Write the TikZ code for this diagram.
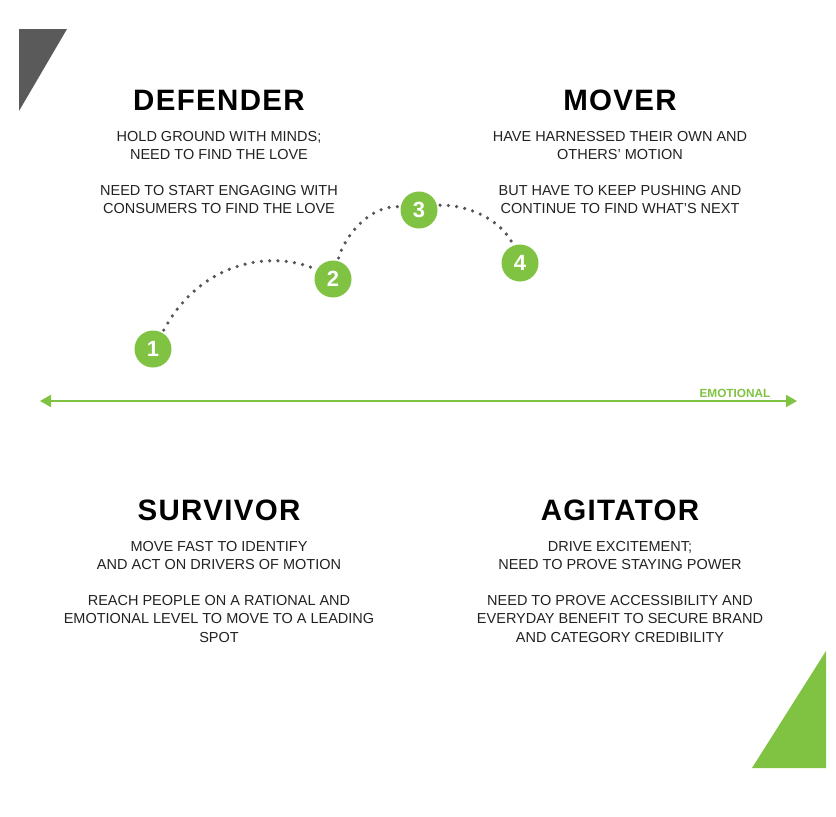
\documentclass[tikz,border=0pt]{standalone}
\usepackage{fontspec}
\setmainfont{Liberation Sans}
\newfontfamily\headfont[LetterSpace=4.5]{Liberation Sans Bold}
\usetikzlibrary{arrows.meta}
\definecolor{lgreen}{HTML}{80C342}
\definecolor{dgray}{HTML}{5A5A5A}
\definecolor{dotgray}{HTML}{555555}
\definecolor{txtgray}{HTML}{222222}
\tikzset{
  head/.style={font=\headfont\fontsize{29.5}{32}\selectfont, text=black, inner sep=0pt},
  body/.style={font=\fontsize{14.5}{18.5}\selectfont, text=txtgray, align=center, inner sep=0pt, anchor=north},
  numc/.style={circle, fill=lgreen, minimum size=37pt, inner sep=0pt, text=white, font=\fontsize{22}{22}\selectfont\bfseries},
  dots/.style={dotgray, line width=3.6pt, line cap=round, dash pattern=on 0pt off 8.3pt},
  axisline/.style={lgreen, line width=2pt, {Triangle[length=11pt,width=12pt]}-{Triangle[length=11pt,width=12pt]}}
}
\begin{document}
\begin{tikzpicture}[x=1pt,y=-1pt]
\useasboundingbox (0,0) rectangle (836,817);
\fill[white] (0,0) rectangle (836,817);
% corner triangles
\fill[dgray] (19,29) -- (67,29) -- (19,111) -- cycle;
\fill[lgreen] (826,651) -- (826,768) -- (752,768) -- cycle;
% axis
\coordinate (axL) at (40,401);
\coordinate (axR) at (797,401);
\draw[axisline] (axL) -- (axR);
\node[text=lgreen, font=\fontsize{11.8}{12}\selectfont\bfseries, inner sep=0pt] (emo) at (735,393) {EMOTIONAL};
% headings
\node[head] (hdef) at (219,100) {DEFENDER};
\node[head] (hmov) at (620,100) {MOVER};
\node[head] (hsur) at (219,510) {SURVIVOR};
\node[head] (hagi) at (620,510) {AGITATOR};
% body texts
\node[body] (d1) at (219,131) {HOLD GROUND WITH MINDS;\\NEED TO FIND THE LOVE};
\node[body] (d2) at (219,185) {NEED TO START ENGAGING WITH\\CONSUMERS TO FIND THE LOVE};
\node[body] (m1) at (620,131) {HAVE HARNESSED THEIR OWN AND\\OTHERS' MOTION};
\node[body] (m2) at (620,185) {BUT HAVE TO KEEP PUSHING AND\\CONTINUE TO FIND WHAT'S NEXT};
\node[body] (s1) at (219,541) {MOVE FAST TO IDENTIFY\\AND ACT ON DRIVERS OF MOTION};
\node[body] (s2) at (219,595) {REACH PEOPLE ON A RATIONAL AND\\EMOTIONAL LEVEL TO MOVE TO A LEADING\\SPOT};
\node[body] (a1) at (620,541) {DRIVE EXCITEMENT;\\NEED TO PROVE STAYING POWER};
\node[body] (a2) at (620,595) {NEED TO PROVE ACCESSIBILITY AND\\EVERYDAY BENEFIT TO SECURE BRAND\\AND CATEGORY CREDIBILITY};
% numbered circles
\node[numc] (c1) at (153,349) {1};
\node[numc] (c2) at (333,279) {2};
\node[numc] (c3) at (419,210) {3};
\node[numc] (c4) at (520,263) {4};
% dotted path
\draw[dots, shorten <=3pt, shorten >=3pt] (c1.60) .. controls (200,262) and (270,250) .. (c2.150);
\draw[dots, shorten <=3pt, shorten >=3pt] (c2.75) .. controls (345,235) and (370,206) .. (c3.170);
\draw[dots, shorten <=3pt, shorten >=3pt] (c3.15) .. controls (470,205) and (500,220) .. (c4.110);
\end{tikzpicture}
\end{document}
